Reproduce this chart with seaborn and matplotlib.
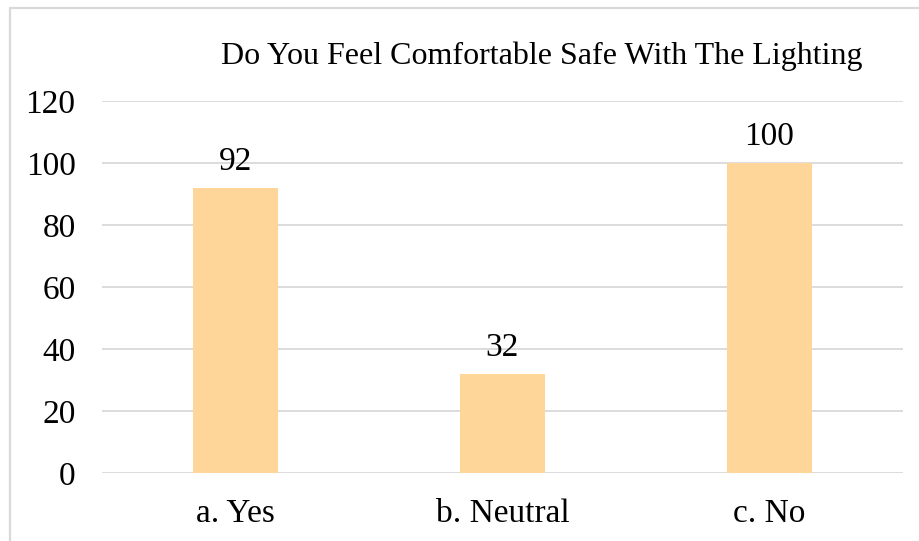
import matplotlib
matplotlib.use("Agg")
import matplotlib.pyplot as plt
from matplotlib.patches import Rectangle
import seaborn as sns
import pandas as pd

categories = ["a. Yes", "b. Neutral", "c. No"]
values = [92, 32, 100]
y_ticks = [0, 20, 40, 60, 80, 100, 120]
title = "Do You Feel Comfortable Safe With The Lighting"

sns.set_theme(style="white")
plt.rcParams["font.family"] = ["Liberation Serif", "DejaVu Serif"]

df = pd.DataFrame({"answer": categories, "count": values})

fig = plt.figure(figsize=(9.2, 5.41), dpi=100)
ax = fig.add_axes([102 / 920, 1 - 473 / 541, (903 - 102) / 920, (473 - 101) / 541])

sns.barplot(data=df, x="answer", y="count", color="#FFD699", saturation=1,
            width=0.315, linewidth=0, ax=ax, zorder=3)

ax.set_ylim(0, 120)
ax.set_yticks(y_ticks)
ax.set_yticklabels([str(t) for t in y_ticks])
ax.yaxis.grid(True, color="#D9D9D9", linewidth=1.3, zorder=0)
ax.set_axisbelow(True)
ax.set_xlabel("")
ax.set_ylabel("")
for s in ax.spines.values():
    s.set_visible(False)
ax.tick_params(axis="y", length=0, pad=19, labelsize=24, labelcolor="black")
ax.tick_params(axis="x", length=0, pad=18, labelsize=24, labelcolor="black")

for container in ax.containers:
    ax.bar_label(container, labels=[str(v) for v in values], padding=8,
                 fontsize=24, color="black")

fig.text(542 / 920, 1 - 56 / 541, title, ha="center", va="center",
         fontsize=23, color="black")

# light outer frame of the chart area
fig.patches.append(Rectangle((10 / 920, -0.2), 1.5, 1.2 - 8 / 541,
                             transform=fig.transFigure, fill=False,
                             edgecolor="#D9D9D9", linewidth=1.6))

fig.savefig("out.png", dpi=100)
